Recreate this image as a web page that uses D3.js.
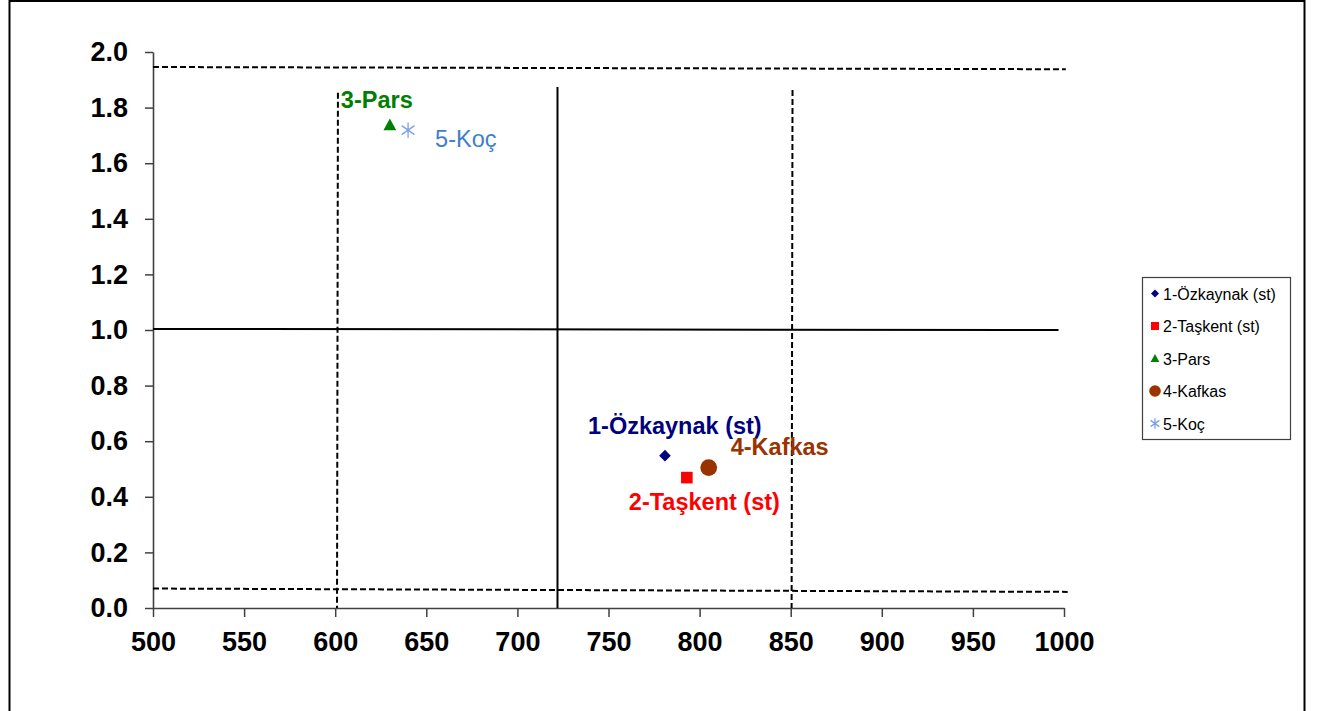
<!DOCTYPE html>
<html>
<head>
<meta charset="utf-8">
<script src="https://cdn.jsdelivr.net/npm/d3@7"></script>
<style>
  body { margin: 0; background: #fff; }
  svg { font-family: "Liberation Sans", Arial, sans-serif; }
</style>
</head>
<body>
<div id="chart"></div>
<script>
// series (one point each)
const seriesNames = ["1-Özkaynak (st)", "2-Taşkent (st)", "3-Pars", "4-Kafkas", "5-Koç"];
const xValues = [781, 793, 630, 805, 640];
const yValues = [0.548, 0.469, 1.737, 0.505, 1.719];

// reference lines (two end points each)
const refX1 = [500, 500, 500, 601.5, 722, 851];
const refY1 = [1.946, 0.070, 1.004, 1.853, 1.874, 1.863];
const refX2 = [1001, 1002, 997, 601, 722, 850.5];
const refY2 = [1.938, 0.058, 1.0, 0, 0, 0];
const refDashed = [true, true, false, true, false, true];

const xTicks = [500, 550, 600, 650, 700, 750, 800, 850, 900, 950, 1000];
const yTicks = [0, 0.2, 0.4, 0.6, 0.8, 1.0, 1.2, 1.4, 1.6, 1.8, 2.0];

// look of each series
const colors = ["#000080", "#ff0000", "#008000", "#993300", "#7f9fe6"];
const labelColors = ["#000080", "#ff0000", "#008000", "#993300", "#3f7fca"];
const labelBold = [true, true, true, true, false];
const labelOffsets = [[-77, -22], [-58, 32], [-49, -17], [22, -13], [27, 17]];

const W = 1318, H = 711;
const svg = d3.select("#chart").append("svg")
    .attr("width", W)
    .attr("height", H);

// outer frame
svg.append("rect")
    .attr("x", 9.5).attr("y", 1)
    .attr("width", 1295).attr("height", 730)
    .attr("fill", "none")
    .attr("stroke", "#000")
    .attr("stroke-width", 2);

const x = d3.scaleLinear().domain([500, 1000]).range([153, 1064]);
const y = d3.scaleLinear().domain([0, 2]).range([608, 52]);

// axes
const xAxis = svg.append("g")
    .attr("transform", `translate(0,${y(0)})`)
    .call(d3.axisBottom(x).tickValues(xTicks).tickFormat(d3.format("d")).tickSize(9).tickPadding(15).tickSizeOuter(0));
const yAxis = svg.append("g")
    .attr("transform", `translate(${x(500)},0)`)
    .call(d3.axisLeft(y).tickValues(yTicks).tickFormat(d3.format(".1f")).tickSize(8).tickPadding(17).tickSizeOuter(0));

[xAxis, yAxis].forEach(a => {
    a.select(".domain").attr("stroke", "#404040").attr("stroke-width", 1.6);
    a.selectAll(".tick line").attr("stroke", "#404040").attr("stroke-width", 1.5);
    a.selectAll(".tick text")
        .attr("fill", "#000")
        .style("font-family", "'Liberation Sans', Arial, sans-serif")
        .style("font-size", "27px")
        .style("font-weight", "bold");
});

// reference lines
svg.append("g").selectAll("line")
    .data(refX1.map((d, i) => i))
    .join("line")
    .attr("x1", i => x(refX1[i]))
    .attr("y1", i => y(refY1[i]))
    .attr("x2", i => x(refX2[i]))
    .attr("y2", i => y(refY2[i]))
    .attr("stroke", "#000")
    .attr("stroke-width", 2)
    .attr("stroke-dasharray", i => refDashed[i] ? "6,3" : null);

// marker shapes
function drawMarker(g, i, s) {
    if (i === 0) {
        g.append("path").attr("d", `M0,${-s}L${s},0L0,${s}L${-s},0Z`).attr("fill", colors[i]);
    } else if (i === 1) {
        g.append("rect").attr("x", -s).attr("y", -s).attr("width", 2 * s).attr("height", 2 * s).attr("fill", colors[i]);
    } else if (i === 2) {
        g.append("path").attr("d", `M0,${-s * 1.15}L${s * 1.1},${s * 0.9}L${-s * 1.1},${s * 0.9}Z`).attr("fill", colors[i]);
    } else if (i === 3) {
        g.append("circle").attr("r", s * 1.45).attr("fill", colors[i]);
    } else {
        const r = s * 1.3, d = r * 0.85;
        g.append("path")
            .attr("d", `M0,${-r}V${r}M${-d},${-d * 0.7}L${d},${d * 0.7}M${-d},${d * 0.7}L${d},${-d * 0.7}`)
            .attr("stroke", colors[i])
            .attr("stroke-width", 1.3)
            .attr("fill", "none");
    }
}

// points
const pts = svg.append("g");
seriesNames.forEach((name, i) => {
    const g = pts.append("g").attr("transform", `translate(${x(xValues[i])},${y(yValues[i])})`);
    drawMarker(g, i, 5.8);
    g.append("text")
        .attr("x", labelOffsets[i][0])
        .attr("y", labelOffsets[i][1])
        .attr("fill", labelColors[i])
        .style("font-size", "23.5px")
        .style("font-weight", labelBold[i] ? "bold" : "normal")
        .text(name);
});

// legend
const legend = svg.append("g").attr("transform", "translate(1142,277)");
legend.append("rect")
    .attr("x", 0.5).attr("y", 0.5)
    .attr("width", 148).attr("height", 162)
    .attr("fill", "#fff")
    .attr("stroke", "#404040")
    .attr("stroke-width", 1.2);
seriesNames.forEach((name, i) => {
    const row = legend.append("g").attr("transform", `translate(13,${16.5 + i * 32.5})`);
    drawMarker(row.append("g"), i, 4);
    row.append("text")
        .attr("x", 8)
        .attr("y", 6)
        .attr("fill", "#000")
        .style("font-size", "16px")
        .text(name);
});
</script>
</body>
</html>
